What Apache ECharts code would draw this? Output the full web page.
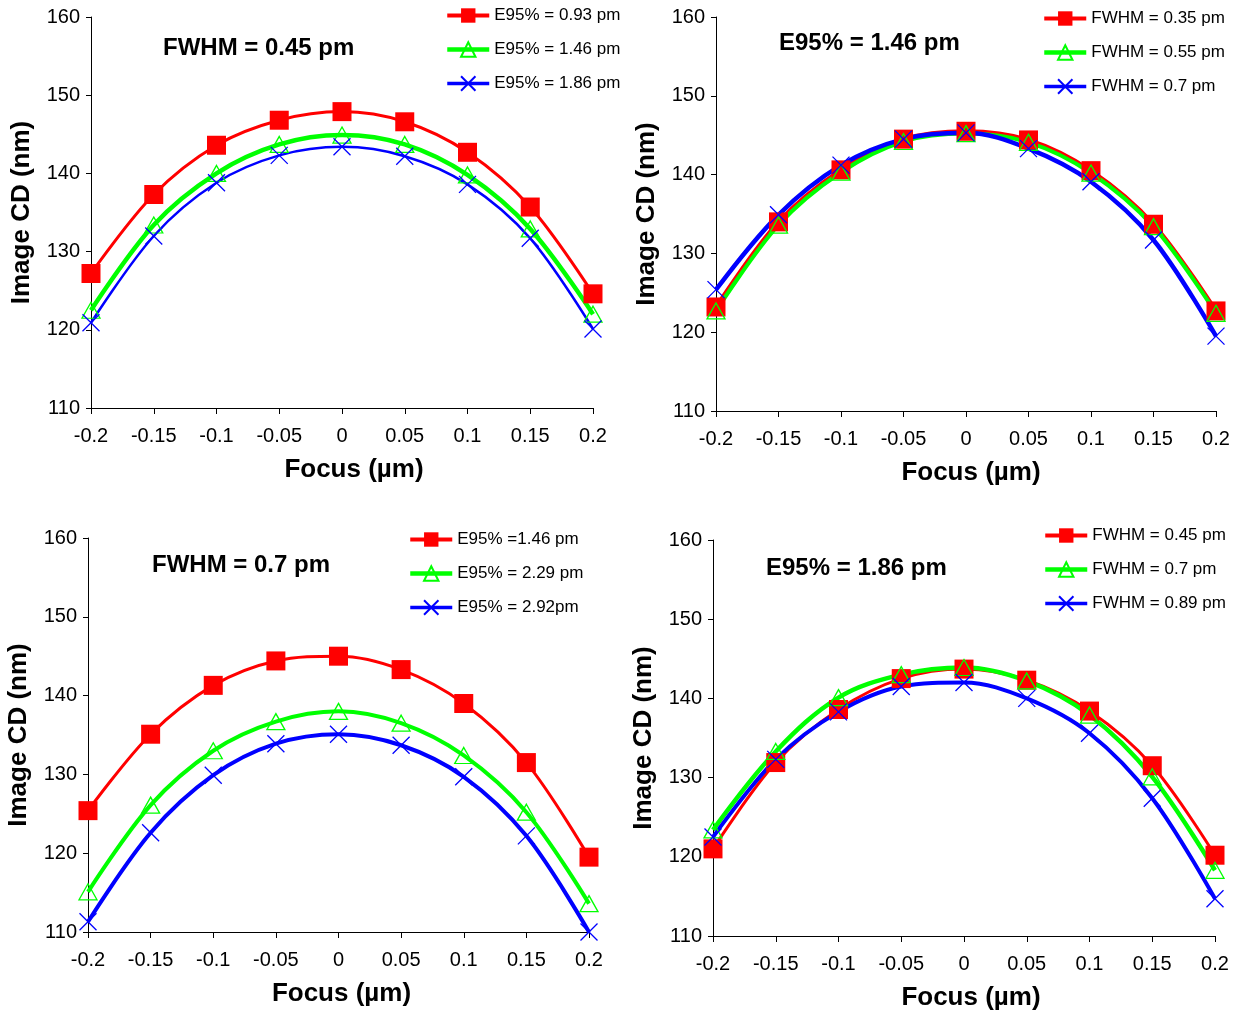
<!DOCTYPE html>
<html>
<head>
<meta charset="utf-8">
<script src="https://cdn.jsdelivr.net/npm/echarts@6/dist/echarts.min.js"></script>
<style>html,body{margin:0;padding:0;background:#fff}#c{width:1240px;height:1013px}</style>
</head>
<body>
<div id="c"></div>
<script>
const focus = [-0.2, -0.15, -0.1, -0.05, 0, 0.05, 0.1, 0.15, 0.2];
const xTickLabels = ['-0.2', '-0.15', '-0.1', '-0.05', '0', '0.05', '0.1', '0.15', '0.2'];
const yTicks = [110, 120, 130, 140, 150, 160];

const titles = ['FWHM = 0.45 pm', 'E95% = 1.46 pm', 'FWHM = 0.7 pm', 'E95% = 1.86 pm'];
const names1 = ['E95% = 0.93 pm', 'E95% = 1.46 pm', 'E95% = 1.86 pm'];
const names2 = ['FWHM = 0.35 pm', 'FWHM = 0.55 pm', 'FWHM = 0.7 pm'];
const names3 = ['E95% =1.46 pm', 'E95% = 2.29 pm', 'E95% = 2.92pm'];
const names4 = ['FWHM = 0.45 pm', 'FWHM = 0.7 pm ', 'FWHM = 0.89 pm'];

const p1Red   = [127.2, 137.3, 143.6, 146.8, 147.9, 146.6, 142.7, 135.7, 124.6];
const p1Green = [122.5, 133.4, 140.0, 143.7, 144.9, 143.7, 139.8, 132.9, 122.0];
const p1Blue  = [120.9, 132.0, 138.8, 142.3, 143.4, 142.2, 138.6, 131.7, 120.1];
const p2Red   = [123.2, 134.0, 140.6, 144.5, 145.5, 144.4, 140.5, 133.7, 122.7];
const p2Green = [122.7, 133.6, 140.3, 144.2, 145.2, 144.1, 140.2, 133.4, 122.4];
const p2Blue  = [125.4, 134.9, 141.2, 144.5, 145.3, 143.3, 139.1, 131.7, 119.5];
const p3Red   = [125.4, 135.1, 141.3, 144.4, 145.0, 143.3, 139.0, 131.5, 119.5];
const p3Green = [115.1, 126.1, 133.0, 136.7, 138.0, 136.5, 132.4, 125.2, 113.6];
const p3Blue  = [111.3, 122.6, 129.9, 133.9, 135.1, 133.7, 129.7, 122.2, 110.0];
const p4Red   = [121.0, 131.9, 138.6, 142.5, 143.7, 142.3, 138.4, 131.5, 120.2];
const p4Green = [123.4, 133.3, 140.1, 143.0, 143.9, 142.2, 137.9, 130.1, 118.3];
const p4Blue  = [122.5, 132.3, 138.3, 141.5, 142.0, 140.0, 135.6, 127.4, 114.7];

const FONT = "'Liberation Sans', Arial, sans-serif";
const panels = [
  {grid:{left:91, top:17, width:502, height:391}, title:{left:163, top:36}, legend:{left:445, top:8}, namePad:24,
   names:names1, data:[p1Red, p1Green, p1Blue], widths:[3, 4.5, 2.5]},
  {grid:{left:716, top:17, width:500, height:394}, title:{left:779, top:31}, legend:{left:1042, top:11}, namePad:10,
   names:names2, data:[p2Red, p2Green, p2Blue], widths:[4, 4, 4.5]},
  {grid:{left:88, top:538, width:501, height:394}, title:{left:152, top:553}, legend:{left:408, top:532}, namePad:6,
   names:names3, data:[p3Red, p3Green, p3Blue], widths:[3, 4, 4]},
  {grid:{left:713, top:540, width:502, height:396}, title:{left:766, top:556}, legend:{left:1043, top:528}, namePad:14,
   names:names4, data:[p4Red, p4Green, p4Blue], widths:[3, 4.5, 4]}
];

const styles = [
  {color:'#ff0000', symbol:'rect', symbolSize:19, itemStyle:{color:'#ff0000'}},
  {color:'#00ff00', symbol:'triangle', symbolSize:[18,16], itemStyle:{color:'rgba(255,255,255,0)', borderColor:'#00ff00', borderWidth:1.3}},
  {color:'#0000ff', symbol:'path://M0,0L20,20M20,0L0,20', symbolSize:17, itemStyle:{color:'rgba(255,255,255,0)', borderColor:'#0000ff', borderWidth:1.3}}
];
const legendLineWidths = [4, 4.5, 3.5];

const option = {
  animation:false,
  backgroundColor:'#fff',
  title:[], legend:[], grid:[], xAxis:[], yAxis:[], series:[]
};

panels.forEach((p, i) => {
  option.grid.push(Object.assign({}, p.grid));
  option.title.push({text:titles[i], left:p.title.left, top:p.title.top, padding:0,
    textStyle:{fontFamily:FONT, fontSize:24, fontWeight:'bold', color:'#000'}});
  option.legend.push({orient:'vertical', left:p.legend.left, top:p.legend.top - 1, padding:0,
    itemGap:17, itemWidth:42, itemHeight:18, selectedMode:false,
    data:p.names.map((n, s) => ({name:n, lineStyle:{width:legendLineWidths[s], color:styles[s].color}})),
    textStyle:{fontFamily:FONT, fontSize:17, color:'#000'}});
  option.xAxis.push({type:'value', gridIndex:i, min:-0.2, max:0.2, interval:0.05,
    splitLine:{show:false},
    axisLine:{show:true, onZero:false, lineStyle:{color:'#000', width:1}},
    axisTick:{show:true, length:6, lineStyle:{color:'#000'}},
    axisLabel:{fontFamily:FONT, fontSize:20, color:'#000', margin:18,
      formatter:v => { const k = focus.findIndex(f => Math.abs(f - v) < 1e-9); return k >= 0 ? xTickLabels[k] : ''; }},
    name:'Focus (\u00b5m)', nameLocation:'middle', nameGap:49,
    nameTextStyle:{fontFamily:FONT, fontSize:26, fontWeight:'bold', color:'#000', padding:[0,0,0,p.namePad]}});
  option.yAxis.push({type:'value', gridIndex:i, min:yTicks[0], max:yTicks[yTicks.length-1], interval:10,
    splitLine:{show:false},
    axisLine:{show:true, onZero:false, lineStyle:{color:'#000', width:1}},
    axisTick:{show:true, length:5, lineStyle:{color:'#000'}},
    axisLabel:{fontFamily:FONT, fontSize:20, color:'#000', margin:11},
    name:'Image CD (nm)', nameLocation:'middle', nameGap:56,
    nameTextStyle:{fontFamily:FONT, fontSize:26, fontWeight:'bold', color:'#000'}});
  p.data.forEach((vals, s) => {
    const st = styles[s];
    option.series.push({
      type:'line', name:p.names[s], xAxisIndex:i, yAxisIndex:i, smooth:0.35, clip:false,
      symbol:st.symbol, symbolSize:st.symbolSize, showAllSymbol:true,
      lineStyle:{color:st.color, width:p.widths[s]},
      itemStyle:st.itemStyle,
      emphasis:{disabled:true},
      data:focus.map((f, k) => [f, vals[k]])
    });
  });
});

const chart = echarts.init(document.getElementById('c'), null, {renderer:'canvas'});
chart.setOption(option);
</script>
</body>
</html>
